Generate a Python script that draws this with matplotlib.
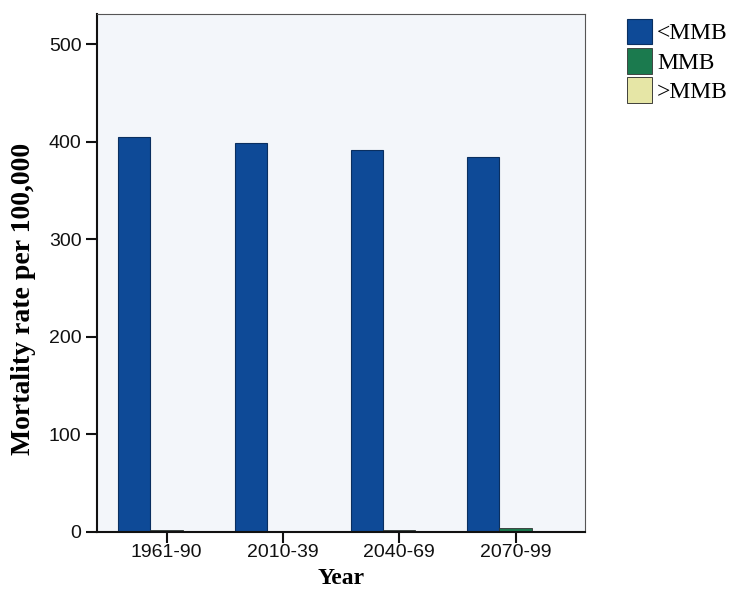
"""Mortality rate per 100,000 by period, split by MMB band."""
import numpy as np
import matplotlib
matplotlib.use("Agg")
import matplotlib.pyplot as plt

periods = ["1961-90", "2010-39", "2040-69", "2070-99"]
below_mmb = [405, 399, 392, 384]
at_mmb = [2, 0.8, 2, 4]
above_mmb = [0.6, 0.6, 0.8, 0.8]

C = {"below": "#0e4a97", "at": "#1b7a4e", "above": "#e6e6a6"}

fig = plt.figure(figsize=(7.39, 6.12), dpi=100)
ax = fig.add_axes([0.131, 0.131, 0.661, 0.846])
ax.set_facecolor("#f3f6fa")

x = np.arange(len(periods))
w = 0.277
ax.bar(x - w, below_mmb, w, color=C["below"], edgecolor="#0a2f60", linewidth=0.8, label="<MMB")
ax.bar(x, at_mmb, w, color=C["at"], edgecolor="#333333", linewidth=0.6, label="MMB")
ax.bar(x + w, above_mmb, w, color=C["above"], edgecolor="#222222", linewidth=0.6, label=">MMB")

ax.set_xlim(-0.6, len(periods) - 0.4)
ax.set_ylim(0, 531)
ax.set_yticks([0, 100, 200, 300, 400, 500])
ax.set_xticks(x)
ax.set_xticklabels(periods)
ax.tick_params(axis="both", direction="out", length=8, width=1.5, labelsize=14, colors="#111111", pad=3)
ax.tick_params(axis="x", pad=1)
for lab in ax.get_xticklabels() + ax.get_yticklabels():
    lab.set_family("Liberation Sans")

for s in ["left", "bottom"]:
    ax.spines[s].set_linewidth(1.5)
    ax.spines[s].set_color("#111111")
for s in ["top", "right"]:
    ax.spines[s].set_linewidth(0.8)
    ax.spines[s].set_color("#555555")

ax.set_xlabel("Year", family="Liberation Serif", fontweight="bold", fontsize=17, labelpad=5)
ax.set_ylabel("Mortality rate per 100,000", family="Liberation Serif", fontweight="bold", fontsize=20)
ax.yaxis.set_label_coords(-0.125, 0.45)

fig.legend(loc="upper left", bbox_to_anchor=(0.835, 0.985), frameon=False,
           prop={"family": "Liberation Serif", "size": 17}, handlelength=1.1,
           handleheight=1.3, labelspacing=0.15, handletextpad=0.2, borderaxespad=0)

fig.savefig("out.png", dpi=100)
print("Saved out.png")
